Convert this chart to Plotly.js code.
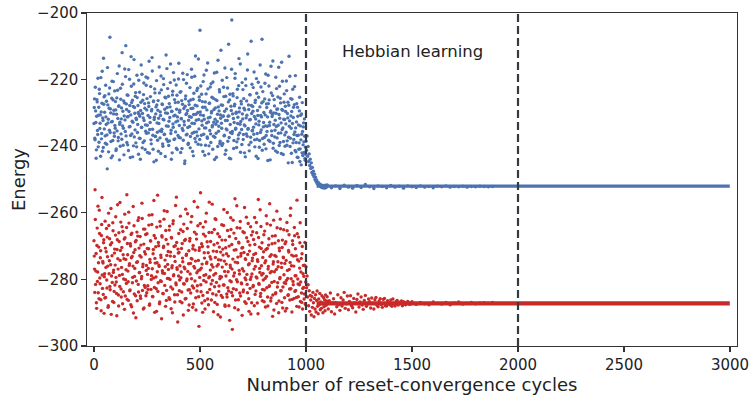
<!DOCTYPE html>
<html>
<head>
<meta charset="utf-8">
<script src="https://cdn.plot.ly/plotly-3.0.1.min.js"></script>
<style>html,body{margin:0;padding:0;background:#fff;}#chart{width:749px;height:396px;}</style>
</head>
<body>
<div id="chart"></div>
<script>
// ---- Data ----
// Phase 1: random phase, cycles 0..1000, two interleaved samplings (every 2.5 cycles, offset 1.25)
const phase1Start = 0, phase1bStart = 1.25, phase1Step = 2.5;
const bluePhase1 = [
-233.2,-225.8,-238.1,-229.4,-243.6,-231.0,-226.7,-236.5,-240.2,-228.3,-222.9,-234.7,-230.6,-219.4,-237.8,-227.1,-241.5,-232.3,-213.6,-225.2,
-229.8,-236.9,-221.7,-233.5,-239.4,-246.8,-227.6,-231.9,-224.3,-235.2,-207.3,-228.8,-238.6,-232.7,-220.5,-242.9,-226.1,-230.3,-236.0,-223.4,
-234.6,-229.1,-240.8,-225.5,-218.2,-231.7,-237.4,-227.9,-244.1,-232.8,-222.6,-236.3,-228.5,-211.9,-233.9,-239.7,-226.4,-230.9,-216.8,-235.6,
-209.8,-227.3,-238.9,-231.2,-224.7,-241.3,-229.6,-219.9,-234.1,-236.8,-213.1,-226.9,-232.5,-243.2,-228.1,-221.3,-237.2,-230.1,-225.0,-239.0,
-232.0,-218.7,-235.9,-227.8,-242.4,-230.4,-223.8,-237.7,-229.3,-215.6,-234.3,-240.5,-226.2,-231.5,-221.0,-238.4,-228.6,-233.6,-219.2,-236.1,
-225.7,-241.9,-230.8,-227.0,-214.5,-235.0,-232.9,-222.1,-239.3,-229.0,-217.4,-236.7,-226.6,-244.7,-231.3,-224.0,-237.0,-228.2,-220.3,-233.0,
-238.2,-226.3,-231.6,-216.2,-235.4,-229.7,-242.2,-223.1,-234.9,-227.5,-240.0,-219.7,-232.1,-236.4,-225.3,-230.0,-212.6,-237.9,-228.4,-222.7,
-234.0,-239.8,-227.2,-231.4,-220.9,-236.2,-243.9,-229.5,-224.6,-233.3,-217.9,-238.0,-226.0,-230.7,-235.7,-221.6,-228.9,-241.0,-232.4,-226.8,
-215.1,-233.8,-229.2,-237.5,-223.6,-231.8,-240.7,-227.4,-235.3,-220.0,-232.6,-245.2,-228.0,-224.9,-236.6,-230.2,-218.5,-234.4,-239.1,-226.5,
-231.1,-222.4,-237.1,-228.7,-216.9,-233.1,-241.6,-225.9,-230.5,-235.8,-219.0,-227.7,-238.7,-232.2,-223.3,-236.9,-229.9,-213.8,-234.8,-226.2,
-205.2,-230.6,-239.6,-224.4,-233.7,-228.3,-220.6,-236.4,-231.9,-242.7,-226.7,-234.5,-217.2,-229.1,-237.6,-222.8,-232.7,-239.9,-227.1,-231.3,
-236.3,-221.2,-229.6,-234.2,-240.9,-225.6,-232.8,-218.0,-237.3,-228.5,-233.4,-243.3,-226.3,-230.4,-214.2,-235.5,-229.4,-223.7,-238.5,-231.6,
-227.6,-234.6,-220.2,-239.2,-230.9,-225.1,-236.7,-216.5,-232.3,-241.2,-228.8,-235.1,-222.5,-231.0,-209.4,-237.4,-226.1,-233.5,-243.8,-229.3,
-202.1,-235.6,-224.2,-231.7,-238.3,-227.9,-219.6,-234.9,-230.1,-240.4,-225.4,-233.2,-237.8,-221.8,-229.7,-236.0,-215.3,-232.6,-227.3,-239.5,
-230.3,-223.0,-236.5,-228.6,-242.0,-233.9,-219.8,-231.5,-226.4,-237.0,-212.3,-234.7,-229.0,-241.4,-224.5,-232.0,-238.8,-227.8,-221.4,-235.2,
-229.5,-234.3,-217.7,-238.1,-226.9,-231.8,-243.0,-224.1,-236.2,-230.8,-220.8,-233.6,-240.3,-228.2,-235.9,-222.2,-231.2,-207.9,-237.7,-226.6,
-232.9,-239.4,-225.8,-230.6,-218.3,-236.8,-228.4,-234.0,-244.3,-227.2,-221.9,-233.8,-238.6,-229.8,-216.0,-235.4,-231.1,-224.8,-240.6,-230.0,
-226.0,-237.2,-232.2,-219.3,-234.1,-228.9,-241.8,-225.2,-236.1,-230.5,-222.0,-238.9,-227.0,-233.0,-214.8,-235.0,-229.2,-242.5,-231.9,-224.3,
-236.6,-228.0,-233.3,-220.4,-239.7,-230.2,-226.8,-237.3,-213.0,-232.4,-240.1,-225.7,-234.6,-229.6,-244.9,-222.9,-231.4,-238.0,-227.5,-235.7,
-218.8,-241.7,-232.7,-236.8,-228.3,-243.4,-233.6,-239.0,-225.3,-240.8,-230.7,-245.6,-236.4,-226.9,-242.8,-234.2,-238.7,-231.8,-243.7,-240.3
];
const bluePhase1b = [
-228.4,-237.6,-222.3,-232.9,-241.1,-226.0,-235.3,-219.6,-230.7,-238.8,-224.2,-233.1,-243.0,-229.7,-236.2,-217.5,-231.5,-240.4,-227.4,-234.8,
-224.8,-239.1,-231.2,-226.5,-236.6,-216.4,-233.0,-241.7,-228.6,-222.5,-235.9,-230.0,-243.5,-225.6,-232.6,-238.3,-220.6,-229.2,-237.0,-233.8,
-226.6,-241.3,-230.4,-235.4,-223.2,-238.4,-228.0,-215.9,-233.4,-240.0,-225.9,-231.8,-237.9,-221.4,-229.5,-234.6,-242.6,-227.0,-232.1,-219.1,
-236.9,-229.0,-224.6,-239.6,-231.1,-217.0,-234.2,-227.8,-243.4,-230.6,-222.0,-236.3,-226.2,-232.8,-239.9,-214.0,-228.4,-235.1,-223.9,-231.6,
-240.2,-225.4,-233.5,-229.9,-220.2,-237.6,-231.0,-243.9,-226.8,-234.4,-218.4,-230.2,-238.9,-224.5,-232.3,-227.2,-241.0,-235.5,-221.7,-229.1,
-233.7,-219.5,-236.0,-228.1,-242.1,-231.4,-225.1,-238.1,-229.4,-213.4,-234.9,-240.9,-226.4,-232.0,-222.8,-237.1,-230.3,-244.2,-227.6,-235.8,
-229.2,-241.5,-233.2,-224.0,-237.5,-230.8,-218.9,-235.6,-227.3,-239.3,-231.9,-221.5,-236.5,-228.9,-243.1,-225.5,-233.9,-216.7,-230.1,-238.6,
-225.0,-232.5,-238.4,-228.2,-215.3,-235.2,-229.6,-242.0,-223.5,-234.3,-230.9,-220.1,-237.8,-226.9,-232.7,-240.6,-224.7,-231.2,-236.8,-219.8,
-237.4,-229.8,-223.8,-241.9,-231.7,-226.3,-234.7,-218.1,-238.2,-228.7,-233.6,-244.4,-225.8,-230.5,-221.1,-236.4,-229.3,-239.5,-232.2,-227.5,
-234.1,-240.5,-226.1,-231.3,-219.3,-236.1,-228.6,-242.9,-224.1,-233.2,-237.7,-212.9,-230.4,-235.7,-227.9,-222.6,-239.4,-232.0,-225.2,-238.0,
-229.7,-221.9,-236.7,-232.4,-226.6,-241.6,-230.8,-218.6,-234.5,-228.3,-239.7,-224.3,-233.0,-237.2,-215.0,-231.5,-242.3,-227.1,-235.3,-222.2,
-238.9,-230.0,-225.3,-233.8,-220.7,-237.0,-229.0,-244.0,-231.9,-226.0,-236.1,-217.8,-232.6,-240.1,-228.2,-234.0,-223.0,-239.2,-230.6,-211.2,
-233.1,-239.8,-227.7,-231.0,-222.3,-236.9,-229.5,-242.4,-225.0,-234.8,-219.4,-232.3,-238.5,-226.7,-230.9,-243.6,-224.4,-235.9,-228.0,-216.9,
-236.2,-230.3,-224.9,-240.7,-232.9,-227.4,-218.2,-234.6,-229.8,-238.7,-222.9,-231.3,-236.6,-213.7,-228.5,-233.4,-241.8,-226.5,-235.0,-220.9,
-231.8,-238.0,-225.7,-233.6,-229.1,-243.2,-221.8,-236.3,-230.7,-217.1,-234.9,-227.6,-239.6,-232.1,-224.6,-237.3,-208.5,-230.2,-235.4,-228.1,
-222.4,-236.4,-231.1,-240.2,-226.2,-233.3,-219.7,-237.9,-229.3,-243.7,-225.3,-232.5,-238.3,-215.6,-230.8,-235.1,-227.0,-241.2,-223.6,-234.2,
-229.9,-237.4,-221.1,-233.9,-240.8,-227.3,-235.6,-231.2,-218.7,-238.2,-226.1,-232.8,-244.1,-229.4,-224.0,-236.8,-230.5,-214.4,-239.1,-233.5,
-227.9,-235.2,-241.4,-230.1,-222.7,-237.5,-228.8,-233.7,-216.3,-239.8,-231.6,-225.6,-236.0,-242.2,-229.0,-220.5,-234.5,-238.6,-226.8,-232.0,
-240.0,-229.6,-235.8,-223.3,-238.4,-231.5,-245.0,-227.7,-234.0,-219.0,-237.6,-230.9,-242.1,-225.9,-233.2,-239.0,-228.3,-236.5,-222.1,-241.3,
-234.5,-238.9,-227.2,-243.3,-231.0,-236.7,-240.9,-229.4,-244.6,-233.9,-238.1,-230.3,-242.0,-235.6,-239.6,-233.0,-241.9,-237.0,-244.2,-242.4
];
const redPhase1 = [
-268.4,-276.9,-253.1,-281.5,-272.2,-288.7,-264.6,-277.8,-284.0,-270.3,-259.2,-279.6,-273.5,-286.1,-266.8,-255.4,-282.7,-275.1,-269.0,-290.2,
-278.3,-262.5,-285.4,-271.7,-280.2,-267.3,-276.0,-287.9,-263.8,-274.4,-282.1,-269.6,-258.7,-279.0,-272.9,-286.6,-265.4,-277.2,-283.6,-270.9,
-275.7,-261.2,-280.8,-290.9,-268.1,-273.8,-284.7,-266.0,-278.8,-256.9,-271.3,-282.9,-276.4,-264.2,-287.3,-272.6,-279.9,-267.9,-260.4,-285.0,
-274.0,-281.2,-254.6,-269.2,-277.5,-286.3,-263.1,-275.3,-283.2,-270.0,-266.5,-288.2,-273.1,-279.4,-258.1,-271.9,-284.4,-276.7,-268.7,-291.5,
-280.5,-265.8,-274.7,-262.3,-283.8,-270.6,-277.9,-267.1,-285.7,-273.3,-279.1,-261.7,-276.2,-288.9,-269.4,-281.8,-264.9,-272.4,-284.9,-275.8,
-266.3,-278.5,-283.0,-270.8,-260.7,-287.4,-274.9,-268.5,-280.0,-263.5,-276.8,-285.2,-271.0,-256.3,-282.4,-273.7,-267.6,-279.3,-289.6,-275.0,
-254.7,-281.0,-269.9,-276.1,-286.8,-264.0,-272.7,-280.6,-266.9,-277.4,-284.2,-270.4,-261.9,-278.2,-274.2,-288.1,-268.0,-283.3,-259.6,-275.5,
-271.6,-279.7,-265.2,-286.0,-273.0,-282.3,-267.4,-276.5,-290.0,-263.3,-278.9,-270.1,-284.6,-274.6,-257.8,-281.6,-268.9,-277.0,-292.8,-272.1,
-266.2,-283.4,-275.9,-261.0,-279.5,-270.7,-287.0,-273.6,-265.6,-281.3,-276.3,-268.3,-285.9,-258.9,-272.8,-280.4,-264.7,-277.6,-289.3,-271.4,
-283.1,-267.7,-275.2,-262.8,-279.8,-273.9,-288.4,-269.8,-282.6,-256.6,-276.6,-271.2,-285.5,-266.4,-278.0,-281.9,-263.9,-274.3,-294.1,-270.5,
-277.1,-254.0,-283.7,-269.3,-275.4,-289.9,-264.3,-280.3,-272.0,-286.4,-267.0,-278.6,-260.1,-274.8,-283.9,-270.2,-287.6,-265.9,-279.2,-273.2,
-268.6,-281.4,-275.6,-257.4,-284.3,-271.5,-278.7,-265.0,-286.9,-273.4,-262.0,-280.9,-276.0,-269.1,-290.6,-274.1,-282.0,-267.2,-279.1,-271.8,
-284.8,-263.6,-276.3,-270.9,-281.7,-259.0,-274.5,-287.7,-268.2,-279.0,-272.3,-285.3,-265.3,-277.7,-283.5,-270.0,-292.3,-275.7,-261.5,-280.7,
-269.5,-295.0,-273.9,-282.8,-266.1,-278.1,-255.8,-286.2,-271.1,-280.1,-264.5,-275.0,-289.1,-268.8,-277.3,-284.1,-262.6,-273.0,-281.1,-270.6,
-276.8,-265.7,-283.2,-271.9,-258.4,-279.6,-274.0,-287.2,-267.5,-281.5,-272.5,-263.2,-285.8,-275.3,-269.7,-280.0,-290.4,-266.7,-278.4,-273.6,
-282.2,-268.0,-276.9,-261.4,-284.5,-272.2,-279.3,-266.0,-287.1,-274.6,-256.0,-281.2,-270.3,-277.9,-285.1,-264.1,-275.9,-269.0,-283.0,-278.2,
-271.7,-286.7,-265.5,-279.7,-274.4,-260.9,-282.5,-270.7,-288.0,-276.1,-267.8,-281.9,-273.1,-263.7,-285.6,-277.6,-269.3,-291.1,-275.4,-262.2,
-280.6,-272.8,-266.9,-284.0,-277.0,-259.5,-282.3,-274.7,-268.4,-286.5,-271.4,-279.4,-264.8,-283.4,-276.4,-270.4,-288.6,-273.3,-265.1,-281.0,
-275.2,-289.5,-268.7,-280.3,-262.9,-277.3,-284.8,-271.3,-266.6,-282.9,-274.9,-258.6,-279.8,-272.7,-286.0,-269.5,-281.6,-276.0,-264.4,-283.6,
-270.8,-278.9,-285.4,-256.2,-274.1,-281.4,-267.3,-288.3,-276.6,-263.0,-280.8,-273.7,-286.9,-270.1,-282.7,-275.8,-279.1,-284.4,-268.9,-287.5
];
const redPhase1b = [
-273.0,-283.9,-262.0,-277.5,-287.0,-269.8,-280.6,-258.0,-275.0,-285.8,-266.2,-281.3,-271.4,-289.4,-263.5,-278.7,-274.6,-284.5,-268.1,-279.2,
-285.6,-270.6,-276.4,-264.7,-282.6,-273.2,-288.4,-260.1,-278.3,-267.8,-283.1,-275.6,-290.5,-269.0,-280.9,-263.0,-277.9,-286.9,-272.1,-281.7,
-266.7,-279.4,-284.2,-271.0,-257.6,-276.9,-288.0,-268.6,-282.1,-274.3,-262.8,-285.3,-270.4,-278.5,-265.6,-283.7,-273.8,-289.0,-267.5,-280.1,
-277.1,-264.4,-286.0,-272.6,-280.7,-259.8,-275.8,-283.4,-269.3,-287.6,-273.5,-266.1,-281.0,-276.0,-290.1,-263.9,-279.1,-271.1,-284.9,-268.3,
-274.9,-286.4,-267.0,-281.5,-261.5,-278.0,-272.9,-285.0,-269.7,-279.8,-257.1,-283.3,-275.4,-264.9,-288.6,-271.7,-282.4,-266.5,-277.3,-284.0,
-270.7,-281.9,-276.7,-263.7,-287.8,-274.0,-268.4,-283.0,-278.9,-260.6,-285.1,-272.3,-279.6,-266.8,-289.9,-275.1,-270.2,-282.8,-264.3,-277.7,
-283.6,-268.9,-275.7,-287.3,-262.6,-280.4,-273.4,-291.8,-267.3,-278.1,-284.3,-270.0,-259.4,-281.8,-276.2,-265.3,-286.3,-272.8,-279.7,-269.4,
-277.0,-285.5,-264.0,-280.0,-271.8,-288.8,-267.6,-275.9,-282.9,-262.4,-278.6,-273.1,-286.8,-269.9,-281.1,-255.3,-276.5,-284.6,-270.9,-279.0,
-271.9,-280.2,-286.6,-265.1,-277.8,-283.8,-269.2,-274.7,-290.7,-263.4,-281.4,-276.8,-268.0,-285.7,-272.4,-279.9,-260.3,-283.2,-275.3,-287.7,
-268.5,-278.4,-284.1,-273.7,-261.1,-282.0,-270.8,-287.4,-276.1,-265.8,-280.5,-274.5,-289.2,-267.9,-283.5,-258.3,-277.4,-285.2,-271.3,-279.4,
-263.2,-281.6,-276.6,-287.1,-270.1,-284.8,-266.4,-278.8,-273.6,-288.9,-262.7,-280.8,-275.2,-268.7,-285.9,-272.0,-279.5,-256.8,-283.0,-277.2,
-273.9,-286.2,-265.9,-280.3,-276.3,-289.7,-269.6,-282.2,-261.8,-278.2,-284.7,-271.6,-287.5,-266.3,-275.5,-283.6,-270.3,-279.8,-291.3,-274.2,
-279.3,-268.2,-285.4,-272.7,-263.8,-281.7,-277.6,-288.1,-270.5,-275.4,-284.4,-259.9,-282.5,-273.0,-287.9,-267.1,-280.4,-276.4,-265.0,-283.9,
-276.9,-284.9,-262.2,-279.0,-271.2,-288.5,-274.8,-267.7,-283.1,-257.9,-280.7,-273.3,-286.1,-269.1,-278.4,-264.6,-285.0,-272.2,-281.3,-290.8,
-270.4,-283.7,-277.5,-266.0,-286.7,-273.8,-280.1,-261.3,-278.5,-284.0,-268.6,-275.6,-289.6,-271.5,-282.7,-264.2,-279.3,-287.0,-274.4,-265.7,
-281.8,-272.5,-287.9,-269.5,-276.1,-283.5,-262.9,-279.6,-274.1,-290.3,-267.4,-281.5,-276.7,-259.1,-284.2,-270.7,-278.7,-286.4,-273.4,-280.2,
-266.6,-283.2,-275.0,-288.3,-271.0,-279.1,-263.3,-285.3,-276.9,-269.7,-282.1,-257.3,-278.0,-286.5,-272.6,-280.9,-267.0,-284.7,-274.7,-289.2,
-277.7,-269.1,-284.3,-273.1,-287.2,-264.5,-281.0,-276.2,-290.0,-270.6,-279.8,-261.9,-283.4,-275.1,-286.9,-268.2,-282.3,-273.5,-278.6,-285.5,
-269.3,-281.2,-274.3,-288.7,-265.4,-279.7,-284.6,-271.8,-277.0,-286.2,-260.8,-282.8,-275.9,-289.8,-268.4,-280.6,-273.0,-285.7,-266.9,-278.9,
-283.3,-272.9,-288.1,-266.3,-279.9,-285.2,-274.5,-281.6,-269.0,-286.6,-277.8,-284.1,-272.3,-288.9,-278.3,-282.4,-285.9,-275.7,-287.3,-280.8
];
// Phase 2: Hebbian learning onset, cycles 1000..1100 (every 2.5 cycles)
const phase2Start = 1000, phase2Step = 2.5;
const bluePhase2 = [
-238.5,-241.2,-236.9,-243.0,-240.1,-244.6,-242.3,-245.8,-243.9,-246.7,-245.0,-247.9,-246.4,-248.6,-247.5,-249.2,-248.4,-250.0,-249.3,-250.6,
-250.1,-251.2,-250.7,-251.5,-251.0,-251.8,-251.4,-252.0,-251.6,-252.3,-251.7,-252.5,-251.9,-252.2,-251.8,-252.6,-252.0,-251.7,-252.4,-252.1
];
const redPhase2 = [
-276.2,-282.5,-279.0,-285.3,-281.6,-287.9,-283.4,-289.6,-284.8,-286.2,-290.7,-285.1,-288.4,-283.9,-287.0,-291.2,-285.7,-288.9,-284.6,-289.8,
-286.3,-283.5,-288.1,-290.3,-285.9,-287.6,-284.2,-289.1,-286.8,-288.7,-284.9,-287.3,-290.0,-285.4,-288.2,-286.1,-289.4,-284.7,-287.8,-286.5
];
// Phase 3: settling, cycles 1100..1500 (red, every 5 cycles)
const phase3Start = 1100, phase3Step = 5;
const redPhase3 = [
-285.2,-288.9,-286.4,-284.1,-289.7,-287.0,-285.8,-290.4,-286.9,-288.2,
-284.6,-287.6,-289.3,-285.5,-288.0,-286.2,-283.9,-288.7,-287.3,-285.0,
-289.1,-286.6,-284.9,-287.9,-288.5,-285.7,-287.1,-289.8,-286.0,-284.4,
-288.3,-286.8,-285.3,-287.7,-289.0,-286.3,-284.8,-288.1,-287.4,-285.9,
-286.7,-288.6,-285.6,-287.2,-288.9,-286.1,-285.4,-287.8,-288.2,-286.5,
-285.8,-287.5,-288.4,-286.0,-285.7,-287.9,-288.0,-286.4,-286.9,-287.6,
-286.2,-288.1,-285.9,-287.3,-288.0,-286.6,-286.3,-287.7,-287.1,-286.8,
-286.5,-287.9,-286.7,-287.4,-287.6,-286.9,-286.6,-287.3,-287.5,-287.0
];
// Phase 4: near-converged jitter (every 20 cycles)
const blueBandStart = 1100, redBandStart = 1500, bandStep = 20;
const blueBand = [
-251.6,-252.5,-251.9,-252.7,-251.7,-252.3,-252.6,-251.8,-252.4,-251.5,-252.2,-252.7,-251.9,-252.1,-252.5,-251.8,-252.3,-252.0,-252.6,-251.9,
-252.2,-252.4,-251.9,-252.3,-252.1,-252.5,-252.0,-252.2,-251.9,-252.3,-252.1,-252.2,-252.0,-252.3,-252.1,-252.2,-252.0,-252.1,-252.2,-252.1
];
const redBand = [
-286.7,-287.5,-286.9,-287.3,-287.6,-286.8,-287.2,-287.4,-286.9,-287.6,-287.1,-286.8,-287.4,-287.2,-286.9,-287.3,-287.1,-287.0,-287.2,-286.9
];
// Converged energies (cycles 1050..2999)
const convergedCycles = [1050, 2999];
const blueConverged = [-252.0, -252.0];
const redConverged = [-287.2, -287.2];
// Phase boundaries and annotation
const phaseBoundaries = [1000, 2000];
const annotationText = "Hebbian learning";
const annotationPos = {x: 1500, y: -211.7};
const xTicks = [0, 500, 1000, 1500, 2000, 2500, 3000];
const yTicks = [-300, -280, -260, -240, -220, -200];

// ---- Build traces ----
function xs(start, step, n) { const a = []; for (let i = 0; i < n; i++) a.push(start + i * step); return a; }
const BLUE = '#4C72B0', RED = '#C82A2A';
const FONT = 'DejaVu Sans, Liberation Sans, sans-serif';
const mk = (c, s) => ({color: c, size: s, line: {width: 0}});

const blueX = [].concat(xs(phase1Start, phase1Step, bluePhase1.length), xs(phase1bStart, phase1Step, bluePhase1b.length),
  xs(phase2Start, phase2Step, bluePhase2.length), xs(blueBandStart, bandStep, blueBand.length));
const blueY = [].concat(bluePhase1, bluePhase1b, bluePhase2, blueBand);
const redX = [].concat(xs(phase1Start, phase1Step, redPhase1.length), xs(phase1bStart, phase1Step, redPhase1b.length),
  xs(phase2Start, phase2Step, redPhase2.length), xs(phase3Start, phase3Step, redPhase3.length), xs(redBandStart, bandStep, redBand.length));
const redY = [].concat(redPhase1, redPhase1b, redPhase2, redPhase3, redBand);

const traces = [
  {type: 'scatter', mode: 'lines', x: convergedCycles, y: blueConverged, line: {color: BLUE, width: 3.2}, hoverinfo: 'skip', showlegend: false},
  {type: 'scatter', mode: 'lines', x: convergedCycles, y: redConverged, line: {color: RED, width: 4.2}, hoverinfo: 'skip', showlegend: false},
  {type: 'scatter', mode: 'markers', x: blueX, y: blueY, marker: mk(BLUE, 3.4), showlegend: false},
  {type: 'scatter', mode: 'markers', x: redX, y: redY, marker: mk(RED, 3.4), showlegend: false}
];

const shapes = phaseBoundaries.map(v => ({
  type: 'line', xref: 'x', yref: 'paper', x0: v, x1: v, y0: 0, y1: 1,
  line: {color: '#363a42', width: 2.2, dash: '8px,4px'}
}));

const axisCommon = {
  showgrid: false, zeroline: false, showline: true, mirror: true,
  linecolor: '#333', linewidth: 1.2, ticks: 'outside', ticklen: 4.5, tickwidth: 1.1, tickcolor: '#333',
  ticklabeloverflow: 'allow',
  tickfont: {family: FONT, size: 15, color: '#222'}
};

const layout = {
  width: 749, height: 396,
  margin: {l: 87, r: 12, t: 13, b: 50},
  paper_bgcolor: '#fff', plot_bgcolor: '#fff',
  font: {family: FONT, color: '#222'},
  xaxis: Object.assign({}, axisCommon, {
    range: [-33, 3033], tickvals: xTicks, ticktext: xTicks.map(String),
    title: {text: 'Number of reset-convergence cycles', font: {family: FONT, size: 18, color: '#222'}, standoff: 4}
  }),
  yaxis: Object.assign({}, axisCommon, {
    range: [-300, -200], tickvals: yTicks,
    title: {text: 'Energy', font: {family: FONT, size: 18, color: '#222'}, standoff: 6}
  }),
  shapes: shapes,
  annotations: [{x: annotationPos.x, y: annotationPos.y, xref: 'x', yref: 'y', text: annotationText, showarrow: false,
    font: {family: FONT, size: 16.5, color: '#222'}}]
};

Plotly.newPlot('chart', traces, layout, {staticPlot: true, displayModeBar: false});
</script>
</body>
</html>
